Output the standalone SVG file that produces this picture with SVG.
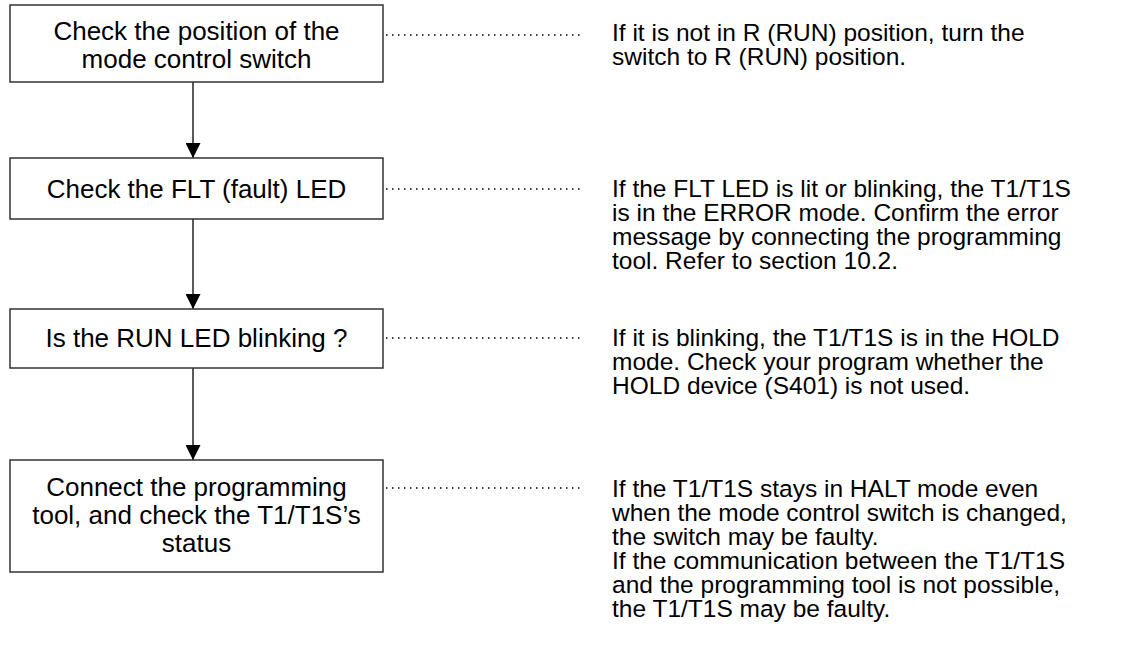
<svg xmlns="http://www.w3.org/2000/svg" width="1126" height="652" viewBox="0 0 1126 652">
<style>
.box{fill:#fff;stroke:#333;stroke-width:1.5}
.t{font-family:"Liberation Sans",Arial,sans-serif;font-size:24.5px;fill:#000}
.b{font-family:"Liberation Sans",Arial,sans-serif;font-size:26px;fill:#000;text-anchor:middle}
.dot{stroke:#000;stroke-width:1.5;stroke-dasharray:1.5 4.5;fill:none}
.ln{stroke:#000;stroke-width:1.3;fill:none}
</style>
<defs>
<marker id="arr" markerWidth="16" markerHeight="15" refX="15" refY="7.5" orient="auto" markerUnits="userSpaceOnUse">
<path d="M0,0 L15,7.5 L0,15 Z" fill="#000"/>
</marker>
</defs>
<rect width="1126" height="652" fill="#fff"/>
<g id="connectors">
<line class="ln" x1="193" y1="82" x2="193" y2="158" marker-end="url(#arr)"/>
<line class="ln" x1="193" y1="219" x2="193" y2="309" marker-end="url(#arr)"/>
<line class="ln" x1="193" y1="368" x2="193" y2="460" marker-end="url(#arr)"/>
<line class="dot" x1="386" y1="35" x2="584" y2="35"/>
<line class="dot" x1="386" y1="189" x2="584" y2="189"/>
<line class="dot" x1="386" y1="338" x2="584" y2="338"/>
<line class="dot" x1="386" y1="488" x2="584" y2="488"/>
</g>
<g id="n1">
<rect class="box" x="10" y="5" width="373" height="77"/>
<text class="b" x="196.5" y="40">Check the position of the</text>
<text class="b" x="196.5" y="68">mode control switch</text>
</g>
<g id="n2">
<rect class="box" x="10" y="158" width="373" height="61"/>
<text class="b" x="196.5" y="198">Check the FLT (fault) LED</text>
</g>
<g id="n3">
<rect class="box" x="10" y="309" width="373" height="59"/>
<text class="b" x="196.5" y="347">Is the RUN LED blinking ?</text>
</g>
<g id="n4">
<rect class="box" x="10" y="460" width="373" height="112"/>
<text class="b" x="196.5" y="496">Connect the programming</text>
<text class="b" x="196.5" y="524">tool, and check the T1/T1S’s</text>
<text class="b" x="196.5" y="552">status</text>
</g>
<g id="notes">
<text class="t" x="612" y="41">If it is not in R (RUN) position, turn the</text>
<text class="t" x="612" y="65">switch to R (RUN) position.</text>
<text class="t" x="612" y="197">If the FLT LED is lit or blinking, the T1/T1S</text>
<text class="t" x="612" y="221">is in the ERROR mode. Confirm the error</text>
<text class="t" x="612" y="245">message by connecting the programming</text>
<text class="t" x="612" y="269">tool. Refer to section 10.2.</text>
<text class="t" x="612" y="346">If it is blinking, the T1/T1S is in the HOLD</text>
<text class="t" x="612" y="370">mode. Check your program whether the</text>
<text class="t" x="612" y="394">HOLD device (S401) is not used.</text>
<text class="t" x="612" y="497">If the T1/T1S stays in HALT mode even</text>
<text class="t" x="612" y="521">when the mode control switch is changed,</text>
<text class="t" x="612" y="545">the switch may be faulty.</text>
<text class="t" x="612" y="569">If the communication between the T1/T1S</text>
<text class="t" x="612" y="593">and the programming tool is not possible,</text>
<text class="t" x="612" y="617">the T1/T1S may be faulty.</text>
</g>
</svg>
